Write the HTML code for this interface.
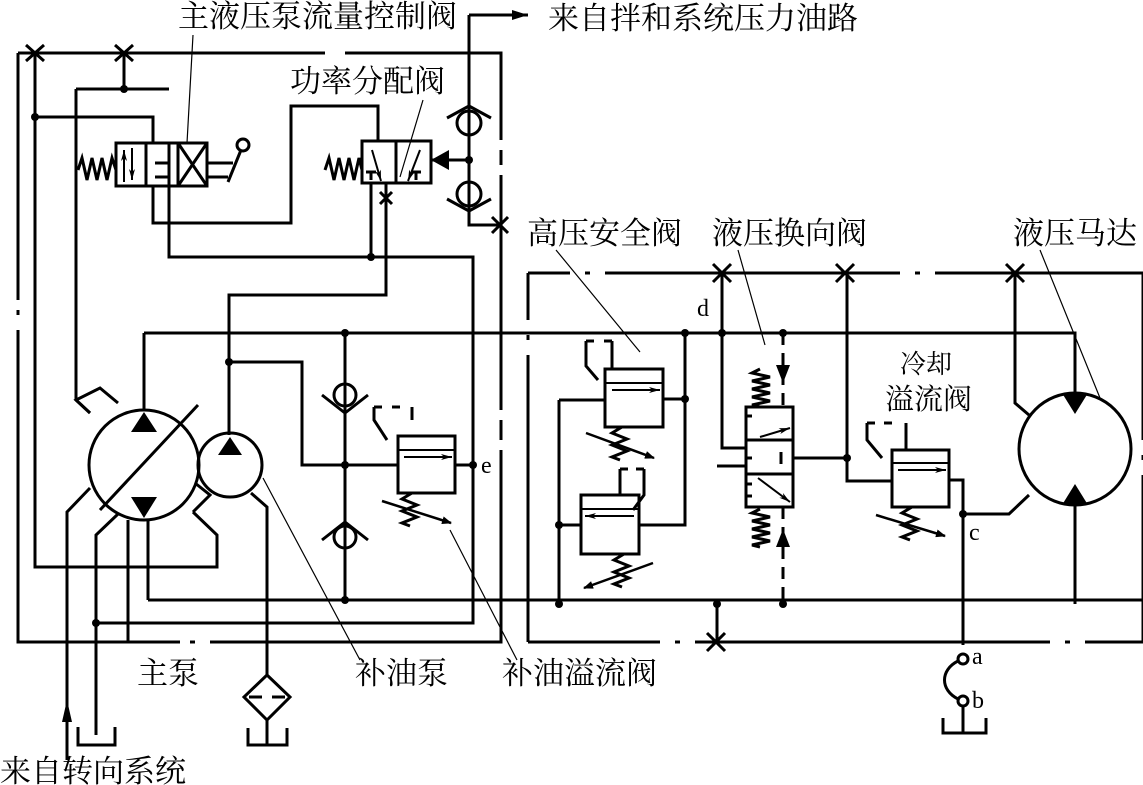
<!DOCTYPE html>
<html><head><meta charset="utf-8"><style>
html,body{margin:0;padding:0;background:#fff;}
svg{display:block;}
text{font-family:"Liberation Serif","Noto Serif CJK SC","Noto Sans CJK SC",serif;font-size:31px;fill:#000;}
.t{font-family:"Liberation Serif",serif;font-size:24px;}
</style></head><body>
<svg width="1143" height="785" viewBox="0 0 1143 785" xmlns="http://www.w3.org/2000/svg">
<defs>
<marker id="ah" markerWidth="10" markerHeight="8" refX="9" refY="4" orient="auto" markerUnits="userSpaceOnUse"><path d="M0,0 L10,4 L0,8 Z" fill="#000"/></marker>
<marker id="sa" markerWidth="12" markerHeight="8" refX="11" refY="4" orient="auto" markerUnits="userSpaceOnUse"><path d="M0,1 L11,4 L0,7 L3,4 Z" fill="#000"/></marker>
</defs>
<g fill="none" stroke="#000" stroke-width="3">
<!-- left dash-dot box -->
<path d="M18,53 H325 M345,53 H501 V140 M501,150 V165 M501,175 V410 M501,420 V440 M501,450 V642 H210 M195,642 H190 M180,642 H18 V330 M18,315 V310 M18,300 V53"/>
<path d="M26,45 L44,61 M26,61 L44,45 M115,45 L133,61 M115,61 L133,45"/>
<path d="M35,53 V567 H217 V535 L193,512"/>
<path d="M124,53 V89 M76,89 H169 M76,89 V400 L90,413"/>
<path d="M35,117 H153 V143"/>
<!-- valve 1 -->
<rect x="116" y="143" width="91" height="43"/>
<path d="M146,143 V186 M178,143 V186"/>
<path d="M78,170 l4,-12 l5,22 l5,-22 l5,22 l5,-22 l5,22 l5,-22 l4,12"/>
<path d="M169,143 V186 M153,186 V223 H291 V106 H378 V141"/>
<path d="M169,186 V257 H473 V623 H96"/>
<path d="M155,163 H169 M155,177 H169" />
<path d="M178,143 L207,186 M207,143 L178,186"/>
<path d="M207,163 H233 M207,177 H228 M228,182 L241,150"/>
<circle cx="243" cy="145" r="6"/>
<!-- valve 2 -->
<rect x="362" y="141" width="69" height="42"/>
<path d="M396,141 V183"/>
<path d="M325,170 l4,-12 l5,22 l5,-22 l5,22 l5,-22 l5,22 l5,-22 l3,12"/>
<path d="M371,183 V257 M386,183 V295 H229 V360"/>
<path d="M380,192 L392,204 M392,192 L380,204"/>
<path d="M366,172 H376 M371,172 V180 M411,172 H421 M416,172 V180"/>
<path d="M431,160 H469"/>
<!-- check valves top right -->
<path d="M469,15 V225 H501 M469,15 H528"/>
<circle cx="469" cy="123" r="12"/>
<circle cx="469" cy="194" r="12"/>
<path d="M447,118 L469,106 L491,118 M447,199 L469,211 L491,199"/>
<path d="M492,217 L508,233 M492,233 L508,217"/>
<!-- pumps -->
<circle cx="144" cy="465" r="55"/>
<circle cx="230" cy="465" r="32"/>
<path d="M100,510 L198,405"/>
<path d="M90,413 L76,400 L100,388 L118,403 M193,512 L210,495 L195,483"/>
<path d="M67,760 V512 L90,488 M96,735 V535 L118,514 M128,642 V520 M148,600 V520"/>
<path d="M144,333 V410 M229,360 V435"/>
<path d="M144,333 H1075 V400 M148,600 H1143"/>
<path d="M96,623 V735"/>
<path d="M251,493 L267,507 V675"/>
<path d="M78,727 V745 H115 V727 M248,728 V745 H287 V728"/>
<path d="M267,675 L290,697 L267,720 L244,697 Z M249,697 H262 M272,697 H285 M267,720 V745"/>
<!-- charge side -->
<path d="M345,333 V600"/>
<circle cx="345" cy="395" r="11"/>
<circle cx="345" cy="537" r="11"/>
<path d="M322,395 L345,413 L368,395 M322,540 L345,522 L368,540"/>
<path d="M229,362 H302 V465 H398"/>
<rect x="398" y="436" width="57" height="57"/>
<path d="M398,450 H455" stroke-width="2"/>
<path d="M455,465 H473"/>
<path d="M374,407 V420 L387,440 M374,407 h8 M392,407 h8 M412,407 V420"/>
<path d="M412,493 l-10,6 l15,6 l-15,6 l15,6 l-15,6 l8,3"/>
<path d="M382,501 L451,523" marker-end="url(#ah)" stroke-width="2.5"/>
<!-- right dash-dot box -->
<path d="M528,273 H570 M585,273 H590 M605,273 H900 M915,273 H920 M935,273 H1143 M528,642 H660 M675,642 H680 M695,642 H1050 M1065,642 H1070 M1085,642 H1143 M528,273 V320 M528,335 V340 M528,355 V642 M1143,273 V440 M1143,455 V460 M1143,475 V642"/>
<path d="M713,264 L731,282 M713,282 L731,264 M836,264 L854,282 M836,282 L854,264 M1006,264 L1024,282 M1006,282 L1024,264 M707,633 L725,651 M707,651 L725,633"/>
<!-- high pressure valves -->
<path d="M685,333 V525 H639 M663,399 H685 M559,400 V604 M559,400 H605 M559,525 H581"/>
<rect x="605" y="369" width="58" height="58"/>
<path d="M605,383 H663" stroke-width="2"/>
<rect x="581" y="495" width="58" height="59"/>
<path d="M581,509 H639" stroke-width="2"/>
<path d="M586,341 h8 M604,341 h8 M586,341 V366 L598,380 M612,341 V369"/>
<path d="M620,469 h8 M636,469 h8 M620,469 V495 M644,469 V495 L633,510"/>
<path d="M622,427 l-10,6 l15,6 l-15,6 l15,6 l-15,6 l8,3"/>
<path d="M586,433 L654,458" marker-end="url(#ah)" stroke-width="2.5"/>
<path d="M624,554 l-10,6 l15,6 l-15,6 l15,6 l-15,6 l8,3"/>
<path d="M653,563 L584,588" marker-end="url(#ah)" stroke-width="2.5"/>
<!-- direction valve -->
<rect x="746" y="407" width="47" height="100"/>
<path d="M746,440 H793 M746,474 H793"/>
<path d="M722,273 V448 H746 M717,604 V642 M717,466 H746 M746,416 H752 M746,458 H752 M746,484 H752 M746,496 H752 M793,458 H847 M781,452 V464"/>
<path d="M760,369 l-8,4 l18,4 l-18,4 l18,4 l-18,4 l18,4 l-18,4 l18,4 l-18,4 l8,2"/>
<path d="M760,509 l-8,4 l18,4 l-18,4 l18,4 l-18,4 l18,4 l-18,4 l18,4 l-18,4 l8,2"/>
<path d="M783,333 V407 M783,507 V604" stroke-dasharray="12,8"/>
<path d="M847,273 V481 H892 M949,480 H963 V645 M963,514 H1009 L1029,495"/>
<rect x="892" y="450" width="57" height="57"/>
<path d="M892,463 H949" stroke-width="2"/>
<path d="M867,423 h8 M884,423 h8 M867,423 V440 L882,458 M906,423 V450"/>
<path d="M912,507 l-10,6 l15,6 l-15,6 l15,6 l-15,6 l8,3"/>
<path d="M876,515 L945,536" marker-end="url(#ah)" stroke-width="2.5"/>
<!-- motor -->
<circle cx="1075" cy="449" r="56"/>
<path d="M1015,273 V403 L1029,415 M1075,505 V604"/>
<!-- a b tank -->
<circle cx="963" cy="659" r="5" fill="#fff"/>
<circle cx="963" cy="701" r="5" fill="#fff"/>
<path d="M958,661 C940,670 940,690 958,699"/>
<path d="M963,706 V733 M943,718 V733 H986 V718"/>
<g stroke-width="1.2">
<path d="M193,35 L187,143 M423,100 L400,177 M360,660 L263,478 M517,660 L450,530 M556,250 L640,352 M738,250 L765,345 M1040,250 L1100,398"/>
</g>
</g>
<!-- inner arrows -->
<g stroke="#000" stroke-width="2" fill="none">
<path d="M124,182 V150" marker-end="url(#sa)"/>
<path d="M132,148 V180" marker-end="url(#sa)"/>
<path d="M372,150 L381,181" marker-end="url(#sa)"/>
<path d="M420,150 L408,181" marker-end="url(#sa)"/>
<path d="M404,457 H452" marker-end="url(#sa)"/>
<path d="M612,390 H660" marker-end="url(#sa)"/>
<path d="M634,516 H585" marker-end="url(#sa)"/>
<path d="M898,470 H946" marker-end="url(#sa)"/>
<path d="M760,437 L790,428" marker-end="url(#sa)"/>
<path d="M758,478 L790,502" marker-end="url(#sa)"/>
</g>
<g fill="#000">
<path d="M131,432 L157,432 L144,412 Z"/>
<path d="M131,497 L157,497 L144,518 Z"/>
<path d="M218,455 L242,455 L230,437 Z"/>
<path d="M1062,393 L1088,393 L1075,414 Z"/>
<path d="M1062,505 L1088,505 L1075,484 Z"/>
<path d="M431,160 L449,150 L449,170 Z"/>
<path d="M776,365 L790,365 L783,383 Z"/>
<path d="M776,547 L790,547 L783,529 Z"/>
<path d="M67,700 L62,722 L72,722 Z"/>
<path d="M528,15 L512,10 L512,20 Z"/>
<circle cx="35" cy="117" r="4"/><circle cx="124" cy="89" r="4"/>
<circle cx="371" cy="257" r="4"/><circle cx="229" cy="362" r="4"/>
<circle cx="345" cy="333" r="4"/><circle cx="345" cy="465" r="4"/><circle cx="345" cy="600" r="4"/>
<circle cx="473" cy="465" r="4"/><circle cx="96" cy="623" r="4"/><circle cx="469" cy="160" r="4"/>
<circle cx="685" cy="333" r="4"/><circle cx="685" cy="399" r="4"/><circle cx="722" cy="333" r="4"/><circle cx="783" cy="333" r="4"/>
<circle cx="559" cy="525" r="4"/><circle cx="559" cy="604" r="4"/><circle cx="717" cy="604" r="4"/><circle cx="783" cy="604" r="4"/>
<circle cx="847" cy="458" r="4"/><circle cx="963" cy="514" r="4"/>
</g>
<text x="178" y="27">主液压泵流量控制阀</text>
<text x="548" y="29">来自拌和系统压力油路</text>
<text x="290" y="92">功率分配阀</text>
<text x="527" y="244">高压安全阀</text>
<text x="712" y="244">液压换向阀</text>
<text x="1013" y="244">液压马达</text>
<text x="900" y="373" style="font-size:26px">冷却</text>
<text x="885" y="409" style="font-size:29px">溢流阀</text>
<text x="137" y="684">主泵</text>
<text x="355" y="684">补油泵</text>
<text x="502" y="684">补油溢流阀</text>
<text x="0" y="782">来自转向系统</text>
<text class="t" x="697" y="316">d</text>
<text class="t" x="481" y="473">e</text>
<text class="t" x="969" y="540">c</text>
<text class="t" x="972" y="664">a</text>
<text class="t" x="972" y="708">b</text>
</svg>
</body></html>
